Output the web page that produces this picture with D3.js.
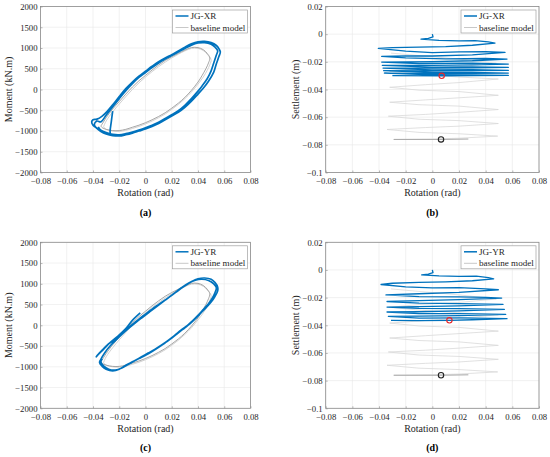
<!DOCTYPE html>
<html>
  <head>
    <meta charset="utf-8">
    <script src="https://cdn.jsdelivr.net/npm/d3@7"></script>
    <style>
      html, body {
        margin: 0;
        padding: 0;
        background: #ffffff;
      }
      svg {
        display: block;
      }
      svg text {
        font-family: "Liberation Serif", "Times New Roman", Times, serif;
      }
    </style>
  </head>
  <body>
    <svg width="550" height="457"></svg>
    <script>
      // tick values
      const rotationTicks = [-0.08, -0.06, -0.04, -0.02, 0, 0.02, 0.04, 0.06, 0.08];
      const momentTicks = [-2000, -1500, -1000, -500, 0, 500, 1000, 1500, 2000];
      const settlementTicks = [-0.1, -0.08, -0.06, -0.04, -0.02, 0, 0.02];

      // JG-XR moment-rotation, [rotation, moment]
      const xrMoment = [
        [-0.025, -520], [-0.026, -760], [-0.027, -1000], [-0.027, -1068], [-0.031, -1060],
        [-0.034, -1000], [-0.037, -930], [-0.040, -860], [-0.041, -780], [-0.040, -730], [-0.037, -715],
        [-0.033, -640], [-0.029, -520], [-0.025, -370], [-0.020, -170], [-0.015, 20], [-0.010, 180], [-0.005, 320], [0.000, 440],
        [0.005, 560], [0.010, 670], [0.015, 760], [0.020, 840], [0.025, 930], [0.030, 1020], [0.035, 1100], [0.040, 1150],
        [0.045, 1160], [0.050, 1130], [0.054, 1060], [0.056, 980], [0.057, 900],
        [0.056, 800], [0.054, 620], [0.052, 420], [0.048, 200], [0.044, 30], [0.040, -110], [0.035, -280], [0.030, -430],
        [0.025, -550], [0.020, -640], [0.015, -730], [0.010, -820], [0.005, -890], [0.000, -950], [-0.005, -1000],
        [-0.010, -1050], [-0.015, -1090], [-0.020, -1120], [-0.025, -1110], [-0.030, -1070], [-0.034, -1010], [-0.037, -940],
        [-0.039, -850], [-0.037, -760],
        [-0.034, -780], [-0.030, -620], [-0.025, -420], [-0.020, -220], [-0.015, -30], [-0.010, 140], [-0.005, 290],
        [0.000, 410], [0.005, 530], [0.010, 640], [0.015, 735], [0.020, 820], [0.025, 905], [0.030, 990], [0.035, 1070],
        [0.040, 1120], [0.045, 1130], [0.050, 1090], [0.053, 1020], [0.055, 930],
        [0.054, 830], [0.052, 640], [0.050, 450], [0.047, 260], [0.043, 80], [0.040, -40], [0.035, -220], [0.030, -380],
        [0.025, -510], [0.020, -610], [0.015, -700], [0.010, -790], [0.005, -860], [0.000, -920], [-0.005, -975],
        [-0.010, -1025], [-0.015, -1065], [-0.020, -1090], [-0.025, -1080], [-0.030, -1040], [-0.034, -980], [-0.036, -900]
      ];

      // JG-YR moment-rotation, [rotation, moment]
      const yrMoment = [
        [-0.004, 300], [-0.010, 120], [-0.015, -80], [-0.021, -260], [-0.027, -420], [-0.032, -580], [-0.036, -700],
        [-0.0375, -760], [-0.036, -700], [-0.033, -600], [-0.029, -470], [-0.025, -380], [-0.020, -260], [-0.015, -120],
        [-0.010, 20], [-0.005, 150], [0.000, 270], [0.005, 390], [0.010, 500], [0.015, 610], [0.020, 720], [0.025, 840],
        [0.030, 950], [0.035, 1050], [0.040, 1120], [0.045, 1140], [0.050, 1110], [0.053, 1030], [0.055, 920],
        [0.055, 830], [0.053, 700], [0.050, 560], [0.046, 420], [0.042, 290], [0.038, 160], [0.034, 40], [0.030, -60],
        [0.025, -180], [0.020, -310], [0.015, -420], [0.010, -530], [0.005, -630], [0.000, -720], [-0.005, -800],
        [-0.010, -880], [-0.015, -960], [-0.020, -1060], [-0.025, -1100], [-0.030, -1060], [-0.033, -990], [-0.035, -900],
        [-0.034, -820], [-0.031, -660], [-0.027, -500], [-0.022, -340], [-0.017, -190], [-0.012, -50], [-0.007, 80],
        [-0.002, 200], [0.003, 320], [0.008, 440], [0.013, 560], [0.018, 680], [0.023, 800], [0.028, 920], [0.033, 1020],
        [0.038, 1090], [0.043, 1110], [0.048, 1080], [0.052, 1000], [0.054, 900],
        [0.053, 790], [0.051, 660], [0.048, 520], [0.044, 380], [0.040, 240], [0.036, 110], [0.032, 0], [0.027, -120],
        [0.022, -250], [0.017, -370], [0.012, -480], [0.007, -580], [0.002, -670], [-0.003, -760], [-0.008, -850],
        [-0.013, -940], [-0.018, -1030], [-0.023, -1080], [-0.028, -1060], [-0.032, -980], [-0.034, -880], [-0.033, -800]
      ];

      // baseline model moment-rotation, two cycles
      const baseMomentOuter = [
        [-0.034, -880], [-0.032, -780], [-0.030, -680], [-0.025, -470], [-0.020, -290], [-0.015, -110], [-0.010, 60],
        [-0.005, 210], [0.000, 340], [0.005, 470], [0.010, 590], [0.015, 700], [0.020, 790], [0.025, 870], [0.030, 950],
        [0.035, 1010], [0.040, 1010], [0.044, 960], [0.047, 870], [0.049, 760],
        [0.048, 640], [0.046, 500], [0.043, 330], [0.040, 180], [0.035, -20], [0.030, -190], [0.025, -330], [0.020, -450],
        [0.015, -560], [0.010, -650], [0.005, -730], [0.000, -800], [-0.005, -860], [-0.010, -910], [-0.015, -960],
        [-0.020, -990], [-0.025, -990], [-0.030, -960], [-0.033, -920], [-0.034, -880]
      ];
      const baseMomentInner = [
        [-0.032, -900], [-0.030, -760], [-0.025, -540], [-0.020, -350], [-0.015, -170], [-0.010, 0], [-0.005, 160],
        [0.000, 300], [0.005, 430], [0.010, 550], [0.015, 660], [0.020, 760], [0.025, 850], [0.030, 930], [0.035, 990],
        [0.040, 990], [0.044, 940], [0.047, 850], [0.050, 720],
        [0.049, 600], [0.047, 460], [0.044, 300], [0.040, 130], [0.035, -60], [0.030, -220], [0.025, -360], [0.020, -480],
        [0.015, -590], [0.010, -680], [0.005, -760], [0.000, -830], [-0.005, -890], [-0.010, -940], [-0.015, -985],
        [-0.020, -1010], [-0.025, -1000], [-0.030, -960], [-0.032, -900]
      ];

      // JG-XR settlement-rotation, [rotation, settlement]
      const xrSettlement = [
        [0, 0], [0.0005, -0.002], [-0.003, -0.003], [-0.0085, -0.0036],
        [0.005, -0.0045], [0.02, -0.0049], [0.032, -0.0046], [0.042, -0.0055], [0.047, -0.0065],
        [0.03, -0.0080], [0.01, -0.0090], [-0.01, -0.0094], [-0.03, -0.0098], [-0.0405, -0.0103],
        [-0.02, -0.0122], [0, -0.0133], [0.02, -0.0128], [0.04, -0.0127], [0.0545, -0.0132],
        [0.03, -0.0150], [0, -0.0158], [-0.02, -0.0157], [-0.038, -0.0161],
        [-0.02, -0.0172], [0.01, -0.0178], [0.04, -0.0176], [0.056, -0.0180],
        [0.03, -0.0192], [0, -0.0198], [-0.038, -0.0202],
        [-0.01, -0.0212], [0.03, -0.0210], [0.057, -0.0216],
        [0.03, -0.0222], [0, -0.0226], [-0.0375, -0.0226],
        [0, -0.0238], [0.03, -0.0236], [0.057, -0.0240],
        [0.03, -0.0243], [0, -0.0246], [-0.037, -0.0245],
        [0, -0.0258], [0.03, -0.0257], [0.057, -0.0262],
        [0.03, -0.0263], [0, -0.0266], [-0.0365, -0.0264],
        [0, -0.0277], [0.03, -0.0276], [0.057, -0.0281],
        [0.03, -0.0283], [0, -0.0285], [-0.036, -0.0281],
        [0, -0.0294], [0.03, -0.0294], [0.057, -0.0298],
        [0.03, -0.0300], [0.007, -0.0301], [-0.03, -0.0300]
      ];

      // JG-YR settlement-rotation, [rotation, settlement]
      const yrSettlement = [
        [0, 0], [0.0005, -0.002], [-0.003, -0.003], [-0.008, -0.0035],
        [0.005, -0.0043], [0.02, -0.0047], [0.033, -0.0045], [0.042, -0.0055], [0.046, -0.0064],
        [0.03, -0.0078], [0.01, -0.0086], [-0.01, -0.0090], [-0.03, -0.0096], [-0.0385, -0.0105],
        [-0.02, -0.0122], [0, -0.0130], [0.02, -0.0128], [0.04, -0.0136], [0.0495, -0.0143],
        [0.02, -0.0162], [-0.01, -0.0172], [-0.0348, -0.0180],
        [-0.01, -0.0192], [0.02, -0.0195], [0.04, -0.0198], [0.052, -0.0203],
        [0.02, -0.0215], [-0.01, -0.0222], [-0.034, -0.0228],
        [-0.01, -0.0240], [0.02, -0.0243], [0.053, -0.0249],
        [0.02, -0.0260], [-0.01, -0.0265], [-0.034, -0.0268],
        [-0.01, -0.0278], [0.02, -0.0280], [0.054, -0.0285],
        [0.02, -0.0296], [-0.01, -0.0302], [-0.034, -0.0304],
        [-0.01, -0.0315], [0.02, -0.0316], [0.055, -0.0321],
        [0.02, -0.0330], [-0.01, -0.0334], [-0.033, -0.0335],
        [-0.01, -0.0348], [0.02, -0.0347], [0.056, -0.0352],
        [0.03, -0.0360], [0.0128, -0.0364], [-0.01, -0.0366], [-0.031, -0.0364]
      ];

      // baseline model settlement-rotation
      const baseSettlement = [
        [-0.031, -0.0137], [-0.01, -0.0155], [0.02, -0.0180], [0.048, -0.0210],
        [0.02, -0.0235], [-0.01, -0.0250], [-0.032, -0.0270],
        [-0.01, -0.0290], [0.02, -0.0310], [0.0495, -0.0324],
        [0.02, -0.0350], [-0.005, -0.0365], [-0.032, -0.0384],
        [-0.01, -0.0405], [0.02, -0.0415], [0.0495, -0.0442],
        [0.02, -0.0460], [-0.005, -0.0475], [-0.032, -0.0492],
        [-0.01, -0.0510], [0.02, -0.0520], [0.0495, -0.0545],
        [0.02, -0.0565], [-0.005, -0.0580], [-0.033, -0.0593],
        [-0.01, -0.0615], [0.02, -0.0625], [0.0495, -0.0646],
        [0.02, -0.0665], [-0.005, -0.0675], [-0.034, -0.0689],
        [-0.01, -0.0710], [0.02, -0.0720], [0.049, -0.0737],
        [0.02, -0.0752], [0, -0.0758], [-0.029, -0.0761]
      ];
      const baseSettlementEnd = [[-0.029, -0.0761], [0.0065, -0.0761], [0.027, -0.0758]];

      // circled points [rotation, settlement]
      const xrMarker = [0.007, -0.0301];
      const yrMarker = [0.0128, -0.0364];
      const baseMarker = [0.0065, -0.0761];

      const blue = "#0072BD";
      const serif = "Liberation Serif";
      const svg = d3.select("svg").attr("font-family", serif);
      const fmt = d => d === 0 ? "0" : d3.format("~g")(d);

      function drawPanel(p) {
        const x = d3.scaleLinear().domain([-0.08, 0.08]).range([p.left, p.right]);
        const y = d3.scaleLinear().domain(p.yDomain).range([p.bottom, p.top]);
        const g = svg.append("g");

        // grid
        g.append("g").selectAll("line").data(rotationTicks).join("line")
          .attr("x1", d => x(d)).attr("x2", d => x(d))
          .attr("y1", p.top).attr("y2", p.bottom)
          .attr("stroke", "#e8e8e8").attr("stroke-width", 0.6);
        g.append("g").selectAll("line").data(p.yTicks).join("line")
          .attr("x1", p.left).attr("x2", p.right)
          .attr("y1", d => y(d)).attr("y2", d => y(d))
          .attr("stroke", "#e8e8e8").attr("stroke-width", 0.6);

        // series
        const line = d3.line().x(d => x(d[0])).y(d => y(d[1])).curve(p.curve);
        p.series.forEach(s => {
          g.append("path")
            .datum(s.data)
            .attr("fill", "none")
            .attr("stroke", s.color)
            .attr("stroke-width", s.width)
            .attr("stroke-linejoin", "round")
            .attr("d", line);
        });
        (p.markers || []).forEach(m => {
          g.append("circle")
            .attr("cx", x(m.at[0])).attr("cy", y(m.at[1])).attr("r", 2.7)
            .attr("fill", "none").attr("stroke", m.color).attr("stroke-width", 1.1);
        });

        // axes
        const ax = g.append("g")
          .attr("transform", `translate(0,${p.bottom})`)
          .call(d3.axisBottom(x).tickValues(rotationTicks).tickFormat(fmt).tickSizeInner(-2).tickSizeOuter(0).tickPadding(5.5));
        const ay = g.append("g")
          .attr("transform", `translate(${p.left},0)`)
          .call(d3.axisLeft(y).tickValues(p.yTicks).tickFormat(fmt).tickSizeInner(-2).tickSizeOuter(0).tickPadding(3));
        [ax, ay].forEach(a => {
          a.attr("font-family", serif).attr("font-size", 8.7);
          a.select(".domain").remove();
          a.selectAll(".tick line").attr("stroke", "#8a8a8a").attr("stroke-width", 0.6);
          a.selectAll(".tick text").attr("fill", "#262626");
        });

        g.append("rect")
          .attr("x", p.left).attr("y", p.top)
          .attr("width", p.right - p.left).attr("height", p.bottom - p.top)
          .attr("fill", "none").attr("stroke", "#8a8a8a").attr("stroke-width", 0.8);

        // labels
        const cx = (p.left + p.right) / 2;
        g.append("text")
          .attr("x", cx).attr("y", p.bottom + 20)
          .attr("dy", "0.35em").attr("text-anchor", "middle")
          .attr("font-size", 10).attr("fill", "#262626")
          .text("Rotation (rad)");
        g.append("text")
          .attr("transform", `translate(${p.yLabelX},${(p.top + p.bottom) / 2}) rotate(-90)`)
          .attr("dy", "0.35em").attr("text-anchor", "middle")
          .attr("font-size", 10).attr("fill", "#262626")
          .text(p.yLabel);
        g.append("text")
          .attr("x", cx).attr("y", p.bottom + 39.5)
          .attr("dy", "0.35em").attr("text-anchor", "middle")
          .attr("font-size", 10).attr("font-weight", "bold")
          .text(p.tag);

        // legend
        const lg = g.append("g").attr("transform", `translate(${p.right - 78},${p.top + 3.5})`);
        lg.append("rect")
          .attr("width", 75).attr("height", 23)
          .attr("fill", "#ffffff").attr("stroke", "#a0a0a0").attr("stroke-width", 0.7);
        const items = [
          { name: p.name, color: blue, width: 1.5 },
          { name: "baseline model", color: "#c8c8c8", width: 1 }
        ];
        items.forEach((it, i) => {
          const yy = 6 + i * 11.5;
          lg.append("line")
            .attr("x1", 3).attr("x2", 16).attr("y1", yy).attr("y2", yy)
            .attr("stroke", it.color).attr("stroke-width", it.width);
          lg.append("text")
            .attr("x", 18).attr("y", yy).attr("dy", "0.35em")
            .attr("font-size", 9.1).attr("fill", "#262626")
            .text(it.name);
        });
      }

      const loopCurve = d3.curveCatmullRom.alpha(0.5);
      const momentSeries = data => [
        { data: baseMomentInner, color: "#d2d2d2", width: 1 },
        { data: baseMomentOuter, color: "#9c9c9c", width: 0.9 },
        { data: data, color: blue, width: 1.7 }
      ];
      const settlementSeries = data => [
        { data: baseSettlement, color: "#d9d9d9", width: 0.8 },
        { data: baseSettlementEnd, color: "#a8a8a8", width: 1 },
        { data: data, color: blue, width: 1.3 }
      ];

      const topRow = { top: 6.5, bottom: 172.5 };
      const bottomRow = { top: 242.3, bottom: 408.3 };
      const leftCol = { left: 40.5, right: 250.5, yDomain: [-2000, 2000], yTicks: momentTicks, yLabel: "Moment (kN.m)", yLabelX: 8.5, curve: loopCurve };
      const rightCol = { left: 325.7, right: 539, yDomain: [-0.1, 0.02], yTicks: settlementTicks, yLabel: "Settlement (m)", yLabelX: 295, curve: d3.curveLinear };

      drawPanel({ ...topRow, ...leftCol, name: "JG-XR", tag: "(a)", series: momentSeries(xrMoment) });
      drawPanel({ ...topRow, ...rightCol, name: "JG-XR", tag: "(b)", series: settlementSeries(xrSettlement),
        markers: [{ at: xrMarker, color: "#e8262a" }, { at: baseMarker, color: "#222222" }] });
      drawPanel({ ...bottomRow, ...leftCol, name: "JG-YR", tag: "(c)", series: momentSeries(yrMoment) });
      drawPanel({ ...bottomRow, ...rightCol, name: "JG-YR", tag: "(d)", series: settlementSeries(yrSettlement),
        markers: [{ at: yrMarker, color: "#e8262a" }, { at: baseMarker, color: "#222222" }] });
    </script>
  </body>
</html>
